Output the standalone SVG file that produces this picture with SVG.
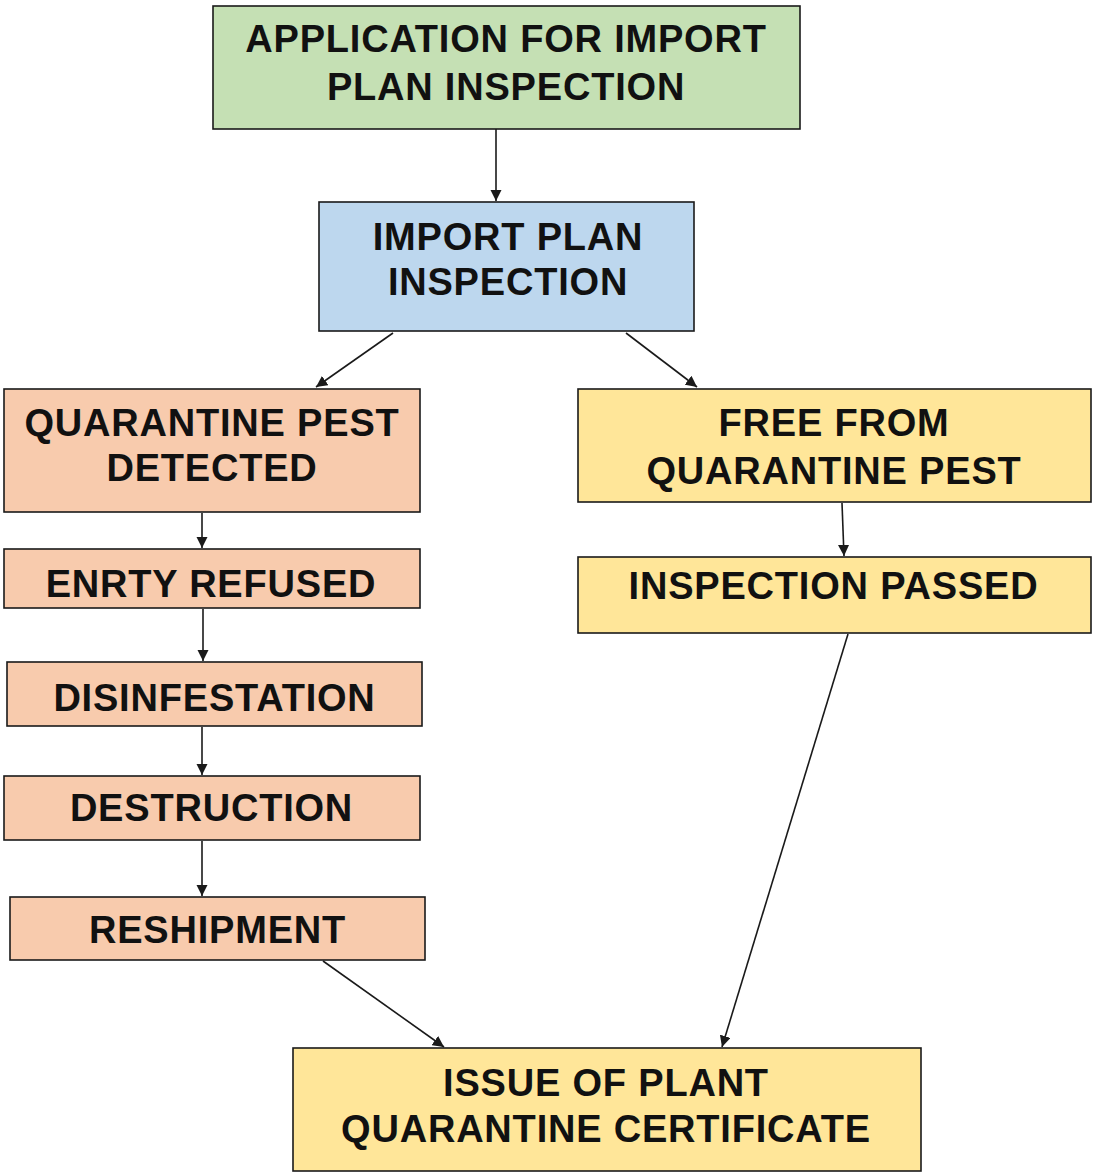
<svg xmlns="http://www.w3.org/2000/svg" width="1093" height="1174" viewBox="0 0 1093 1174">
  <style>
    .box { stroke: #1a1a1a; stroke-width: 1.6; }
    .green { fill: #C5E0B4; }
    .blue { fill: #BDD7EE; }
    .salmon { fill: #F8CBAD; }
    .yellow { fill: #FFE699; }
    .label { font-family: "Liberation Sans", Arial, sans-serif; font-weight: bold; font-size: 38px; letter-spacing: 0.8px; fill: #111; text-anchor: middle; }
    .edge { stroke: #1a1a1a; stroke-width: 1.6; fill: none; marker-end: url(#arrow); }
  </style>
  <defs>
    <marker id="arrow" viewBox="0 0 10 10" refX="10" refY="5" markerWidth="7" markerHeight="7" markerUnits="strokeWidth" orient="auto">
      <path d="M0,0 L10,5 L0,10 z" fill="#1a1a1a"/>
    </marker>
  </defs>
  <rect width="1093" height="1174" fill="#ffffff"/>

  <g id="connectors">
    <line class="edge" x1="496" y1="129" x2="496" y2="201"/>
    <line class="edge" x1="393" y1="333" x2="316" y2="387"/>
    <line class="edge" x1="626" y1="333" x2="697" y2="387"/>
    <line class="edge" x1="202" y1="513" x2="202" y2="548"/>
    <line class="edge" x1="203" y1="609" x2="203" y2="661"/>
    <line class="edge" x1="202" y1="727" x2="202" y2="775"/>
    <line class="edge" x1="202" y1="841" x2="202" y2="896"/>
    <line class="edge" x1="842" y1="503" x2="844" y2="556"/>
    <line class="edge" x1="848" y1="634" x2="722" y2="1047"/>
    <line class="edge" x1="323" y1="961" x2="444" y2="1047"/>
  </g>

  <g id="application">
    <rect class="box green" x="213" y="6" width="587" height="123"/>
    <text class="label" x="506" y="51.5">APPLICATION FOR IMPORT</text>
    <text class="label" x="506" y="99.5">PLAN INSPECTION</text>
  </g>

  <g id="import-inspection">
    <rect class="box blue" x="319" y="202" width="375" height="129"/>
    <text class="label" x="508" y="250">IMPORT PLAN</text>
    <text class="label" x="508" y="295">INSPECTION</text>
  </g>

  <g id="pest-detected">
    <rect class="box salmon" x="4" y="389" width="416" height="123"/>
    <text class="label" x="212" y="436">QUARANTINE PEST</text>
    <text class="label" x="212" y="481">DETECTED</text>
  </g>

  <g id="pest-free">
    <rect class="box yellow" x="578" y="389" width="513" height="113"/>
    <text class="label" x="834" y="436">FREE FROM</text>
    <text class="label" x="834" y="484">QUARANTINE PEST</text>
  </g>

  <g id="entry-refused">
    <rect class="box salmon" x="4" y="549" width="416" height="59"/>
    <text class="label" x="211" y="596.5">ENRTY REFUSED</text>
  </g>

  <g id="inspection-passed">
    <rect class="box yellow" x="578" y="557" width="513" height="76"/>
    <text class="label" x="833.5" y="598.5">INSPECTION PASSED</text>
  </g>

  <g id="disinfestation">
    <rect class="box salmon" x="7" y="662" width="415" height="64"/>
    <text class="label" x="214.5" y="710.5">DISINFESTATION</text>
  </g>

  <g id="destruction">
    <rect class="box salmon" x="4" y="776" width="416" height="64"/>
    <text class="label" x="211.5" y="820.5">DESTRUCTION</text>
  </g>

  <g id="reshipment">
    <rect class="box salmon" x="10" y="897" width="415" height="63"/>
    <text class="label" x="217.5" y="942.5">RESHIPMENT</text>
  </g>

  <g id="certificate">
    <rect class="box yellow" x="293" y="1048" width="628" height="123"/>
    <text class="label" x="606" y="1095.5">ISSUE OF PLANT</text>
    <text class="label" x="606" y="1141.5">QUARANTINE CERTIFICATE</text>
  </g>
</svg>
